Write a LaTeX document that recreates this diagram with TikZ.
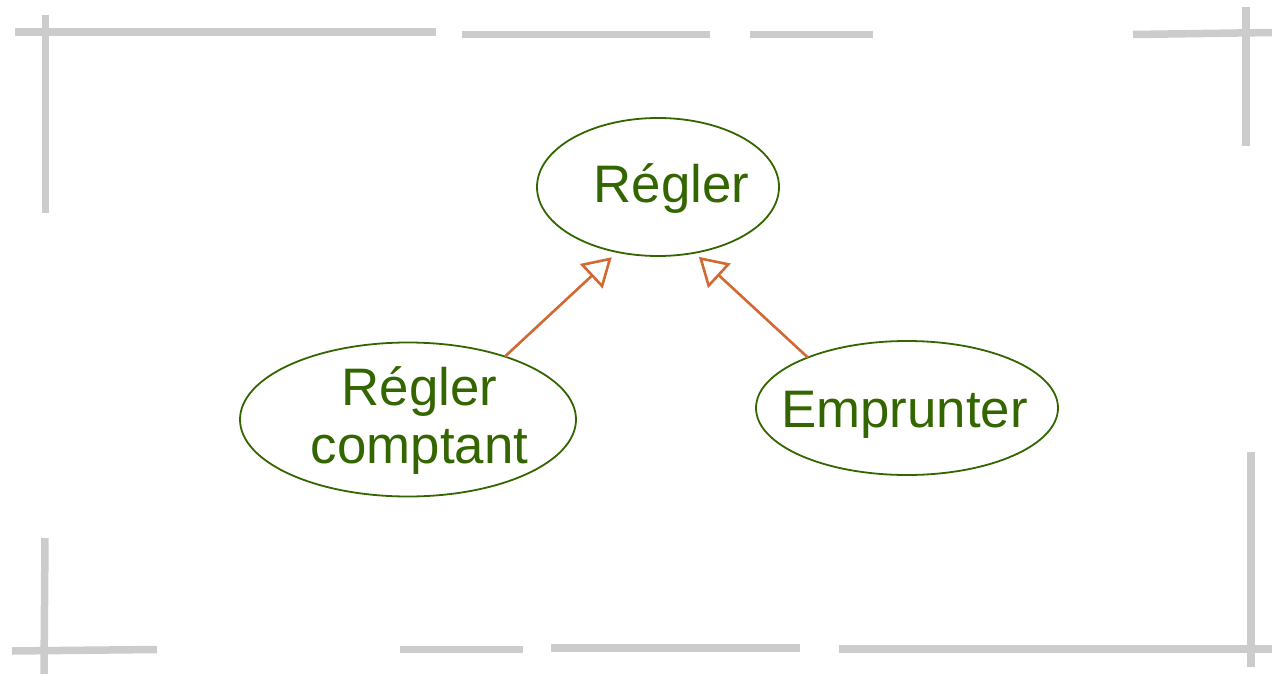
\documentclass[tikz,border=0pt]{standalone}
\usepackage{fontspec}
\setmainfont{Liberation Sans}
\usetikzlibrary{shapes.geometric,arrows.meta}
\definecolor{frame}{HTML}{CCCCCC}
\definecolor{ucgreen}{RGB}{51,102,0}
\definecolor{genorange}{RGB}{210,105,50}
\begin{document}
\begin{tikzpicture}[x=1pt,y=-1pt,
  framebar/.style={draw=frame,line width=7.5pt},
  usecase/.style={ellipse,draw=ucgreen,line width=1.8pt,inner sep=0pt,outer sep=0pt},
  uclabel/.style={text=ucgreen,font=\fontsize{52.8}{58}\selectfont,anchor=base,align=center,inner sep=0pt},
  generalize/.style={draw=genorange,line width=2.6pt,
    -{Triangle[open,length=28pt,width=33pt]}}]
\useasboundingbox (0,0) rectangle (1272,674);

% broken frame around the diagram
\draw[framebar] (15,32) -- (436,32);
\draw[framebar] (45.5,15) -- (45.5,213);
\draw[framebar] (462,34.5) -- (710,34.5);
\draw[framebar] (750,34.5) -- (873,34.5);
\draw[framebar] (1133,34.5) -- (1272,32.5);
\draw[framebar] (1246,7) -- (1246,146);
\draw[framebar] (45,538) -- (44,674);
\draw[framebar] (12,651) -- (157,649.5);
\draw[framebar] (400,649.5) -- (523,649.5);
\draw[framebar] (551,648) -- (800,648);
\draw[framebar] (839,649) -- (1272,649);
\draw[framebar] (1251,452) -- (1251,667);

% use cases
\node[usecase,minimum width=242pt,minimum height=138pt] (reg) at (658,187) {};
\node[uclabel] (regtxt) at (671.5,202.5) {Régler};

\node[usecase,minimum width=336pt,minimum height=154pt] (rc) at (408,419.5) {};
\node[uclabel] (rctxt) at (419.5,463.3) {Régler\\comptant};

\node[usecase,minimum width=302pt,minimum height=134pt] (emp) at (907,408) {};
\node[uclabel] (emptxt) at (904.5,427.5) {Emprunter};

% generalisation arrows, tips held just clear of the parent's outline
\draw[generalize,shorten >=7.7pt] (rc.33.6) -- (reg.-122.5);
\draw[generalize,shorten >=6pt] (emp.153) -- (reg.-61.7);
\end{tikzpicture}
\end{document}
